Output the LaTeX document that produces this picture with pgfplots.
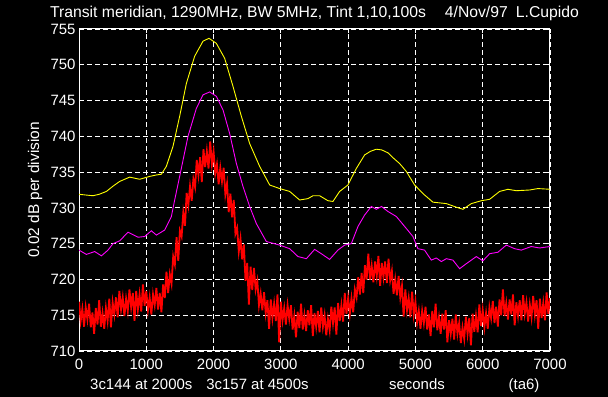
\documentclass[border=0pt]{standalone}
\usepackage{pgfplots}
\pgfplotsset{compat=1.18}
\usepackage{fontspec}
\setmainfont{Liberation Sans}
\definecolor{myyellow}{RGB}{255,255,0}
\definecolor{mymagenta}{RGB}{255,0,255}
\definecolor{myred}{RGB}{255,0,0}
\begin{document}
\begin{tikzpicture}
\path[use as bounding box] (0bp,0bp) rectangle (608bp,397bp);
\fill[black] (0bp,0bp) rectangle (608bp,397bp);
\begin{axis}[
  at={(79bp,46bp)}, anchor=south west,
  scale only axis, width=471bp, height=322bp,
  xmin=0, xmax=7000, ymin=710, ymax=755,
  xtick={0,1000,...,7000}, ytick={710,715,...,755},
  grid=major,
  major grid style={white, dash pattern=on 5.3bp off 2.7bp, line width=0.9bp},
  axis line style={white, line width=1bp},
  tick style={white, line width=0.8bp},
  tick align=inside,
  major tick length=4bp,
  ticklabel style={text=white, font=\fontsize{15}{15}\selectfont},
  xticklabel style={yshift=-5bp},
  /pgf/number format/assume math mode=true,
  /pgf/number format/1000 sep={},
  scaled ticks=false,
  title={Transit meridian, 1290MHz, BW 5MHz, Tint 1,10,100s\hspace{19bp}4/Nov/97\hspace{8bp}L.Cupido},
  title style={at={(0.5,1)}, anchor=base, yshift=6bp, inner sep=0pt, text=white, font=\fontsize{15.8}{16}\selectfont},
  ylabel={0.02 dB per division},
  ylabel style={at={(axis description cs:-0.093,0.5)}, anchor=center, inner sep=0pt, text=white, font=\fontsize{15.5}{16}\selectfont},
  clip=true,
]
\addplot[myyellow, line width=0.9bp] coordinates {
(0,731.9) (100,731.8) (208,731.7) (300,731.9) (407,732.3) (500,733.0) (605,733.7) (753,734.3) (902,734.0) (1051,734.4) (1150,734.6) (1224,734.7) (1298,735.8) (1397,738.6) (1496,742.8) (1596,747.4) (1719,751.2) (1843,753.3) (1932,753.7) (2041,753.0) (2165,750.9) (2288,747.0) (2413,742.8) (2536,739.0) (2685,735.8) (2834,733.2) (2982,732.7) (3131,732.3) (3279,731.1) (3403,731.3) (3477,731.7) (3576,731.7) (3700,731.0) (3774,730.9) (3874,732.3) (3997,733.2) (4121,735.5) (4245,737.4) (4330,737.9) (4419,738.2) (4500,738.1) (4591,737.7) (4680,736.9) (4765,736.2) (4864,735.1) (4988,733.2) (5136,731.8) (5260,730.8) (5459,730.6) (5608,730.1) (5706,729.8) (5831,730.6) (5979,731.0) (6103,731.2) (6251,732.3) (6375,732.6) (6499,732.4) (6697,732.5) (6821,732.7) (7000,732.6)
};
\addplot[mymagenta, line width=0.9bp] coordinates {
(0,724.1) (110,723.5) (233,723.9) (333,723.3) (431,724.1) (505,725.0) (605,725.4) (728,726.6) (877,725.9) (976,726.0) (1076,726.8) (1150,726.2) (1273,726.9) (1348,728.3) (1373,728.8) (1422,731.1) (1496,734.4) (1620,740.0) (1744,743.9) (1843,745.8) (1942,746.2) (2041,745.6) (2140,743.7) (2239,740.4) (2339,736.2) (2437,733.0) (2536,730.2) (2636,727.8) (2784,725.3) (2982,724.8) (3131,724.3) (3254,723.2) (3379,722.9) (3502,724.2) (3601,723.6) (3725,722.8) (3848,724.1) (3948,724.8) (4047,725.0) (4146,727.4) (4245,729.0) (4345,730.2) (4419,729.8) (4496,730.2) (4591,729.5) (4716,728.8) (4840,727.4) (4963,726.0) (5037,724.3) (5136,724.1) (5236,722.7) (5310,723.0) (5385,722.5) (5459,722.9) (5557,722.7) (5657,721.5) (5756,722.2) (5905,723.2) (6003,722.6) (6103,723.6) (6226,723.8) (6351,724.8) (6474,724.3) (6573,724.1) (6722,724.6) (6845,724.4) (7000,724.6)
};
\addplot[myred, line width=1.8bp] coordinates {
(0,716.9) (25,714.2) (50,715.9) (75,713.4) (100,716.1) (125,714.4) (150,716.6) (175,713.3)
(200,715.4) (225,712.4) (250,716.0) (275,713.7) (300,717.1) (325,713.4) (350,715.3) (375,713.1)
(400,716.0) (425,714.2) (450,717.3) (475,713.3) (500,716.8) (525,715.1) (550,717.5) (575,714.7)
(600,718.4) (625,715.8) (650,717.5) (675,714.9) (700,717.3) (725,715.6) (750,718.6) (775,716.1)
(800,718.1) (825,714.2) (850,718.4) (875,715.8) (900,717.9) (925,715.5) (950,719.3) (975,716.3)
(1000,718.4) (1025,715.7) (1050,717.5) (1075,715.1) (1100,717.9) (1125,716.4) (1150,718.8) (1175,715.8)
(1200,718.1) (1225,715.4) (1250,719.3) (1275,717.4) (1300,721.1) (1325,718.1) (1350,720.7) (1375,719.4)
(1400,723.2) (1425,722.1) (1450,725.9) (1475,722.6) (1500,726.8) (1525,726.0) (1550,729.3) (1575,727.5)
(1600,732.1) (1625,730.4) (1650,733.0) (1675,731.0) (1700,734.0) (1725,732.9) (1750,736.7) (1775,734.6)
(1800,737.1) (1825,733.6) (1850,738.2) (1875,735.7) (1900,737.9) (1925,735.5) (1950,739.3) (1975,736.1)
(2000,737.9) (2025,734.8) (2050,736.1) (2075,733.3) (2100,735.6) (2125,733.7) (2150,735.6) (2175,731.9)
(2200,733.4) (2225,729.4) (2250,732.0) (2275,728.7) (2300,731.1) (2325,726.4) (2350,727.2) (2375,723.9)
(2400,725.7) (2425,722.8) (2450,724.9) (2475,719.8) (2500,722.3) (2525,716.5) (2550,721.8) (2575,718.5)
(2600,721.6) (2625,718.6) (2650,719.8) (2675,716.4) (2700,718.0) (2725,715.7) (2750,718.2) (2775,715.3)
(2800,717.1) (2825,713.1) (2850,717.2) (2875,714.6) (2900,716.6) (2925,714.2) (2950,717.9) (2975,711.2)
(3000,716.9) (3025,714.3) (3050,716.0) (3075,713.7) (3100,716.4) (3125,714.5) (3150,716.4) (3175,713.0)
(3200,714.9) (3225,711.9) (3250,715.5) (3275,713.2) (3300,716.6) (3325,713.0) (3350,715.0) (3375,712.8)
(3400,715.7) (3425,713.6) (3450,716.4) (3475,712.1) (3500,715.3) (3525,713.4) (3550,715.6) (3575,712.6)
(3600,716.1) (3625,713.4) (3650,715.0) (3675,712.2) (3700,714.5) (3725,712.9) (3750,716.2) (3775,713.9)
(3800,716.1) (3825,712.3) (3850,716.7) (3875,714.2) (3900,716.4) (3925,714.1) (3950,718.1) (3975,715.2)
(4000,717.4) (4025,715.2) (4050,717.4) (4075,715.4) (4100,718.6) (4125,717.5) (4150,720.3) (4175,717.9)
(4200,720.9) (4225,718.1) (4250,722.0) (4275,720.0) (4300,723.6) (4325,720.0) (4350,721.9) (4375,719.6)
(4400,722.5) (4425,720.5) (4450,723.3) (4475,719.1) (4500,722.3) (4525,720.3) (4550,722.5) (4575,719.5)
(4600,722.9) (4625,719.9) (4650,721.2) (4675,718.0) (4700,720.0) (4725,717.8) (4750,720.5) (4775,717.5)
(4800,719.1) (4825,714.8) (4850,718.6) (4875,715.7) (4900,717.4) (4925,714.7) (4950,718.3) (4975,715.1)
(5000,716.9) (5025,714.0) (5050,715.6) (5075,713.1) (5100,715.6) (5125,713.9) (5150,716.2) (5175,713.0)
(5200,715.1) (5225,712.1) (5250,715.6) (5275,713.3) (5300,716.6) (5325,712.9) (5350,714.7) (5375,712.4)
(5400,715.2) (5425,713.0) (5450,715.7) (5475,711.2) (5500,714.3) (5525,712.4) (5550,714.5) (5575,711.6)
(5600,715.1) (5625,712.4) (5650,713.9) (5675,711.1) (5700,713.3) (5725,711.7) (5750,714.8) (5775,712.4)
(5800,714.6) (5825,710.8) (5850,715.2) (5875,712.7) (5900,714.9) (5925,712.6) (5950,716.5) (5975,713.5)
(6000,715.7) (6025,713.3) (6050,715.3) (6075,713.1) (6100,716.1) (6125,714.6) (6150,717.0) (6175,713.9)
(6200,716.2) (6225,713.4) (6250,717.2) (6275,715.0) (6300,718.6) (6325,714.9) (6350,716.7) (6375,714.4)
(6400,717.2) (6425,715.1) (6450,717.9) (6475,713.6) (6500,716.8) (6525,714.9) (6550,717.1) (6575,714.3)
(6600,717.8) (6625,715.2) (6650,716.8) (6675,714.1) (6700,716.5) (6725,714.7) (6750,717.7) (6775,715.1)
(6800,717.1) (6825,713.1) (6850,717.3) (6875,714.6) (6900,716.7) (6925,714.3) (6950,718.2) (6975,715.2)
(7000,717.4)
};
\end{axis}
\node[text=white, anchor=base west, font=\fontsize{15}{15}\selectfont, inner sep=0pt] at (90bp,8bp) {3c144 at 2000s\hspace{14bp}3c157 at 4500s};
\node[text=white, anchor=base, font=\fontsize{15}{15}\selectfont, inner sep=0pt] at (417bp,8bp) {seconds};
\node[text=white, anchor=base, font=\fontsize{15}{15}\selectfont, inner sep=0pt] at (524bp,8bp) {(ta6)};
\end{tikzpicture}
\end{document}
